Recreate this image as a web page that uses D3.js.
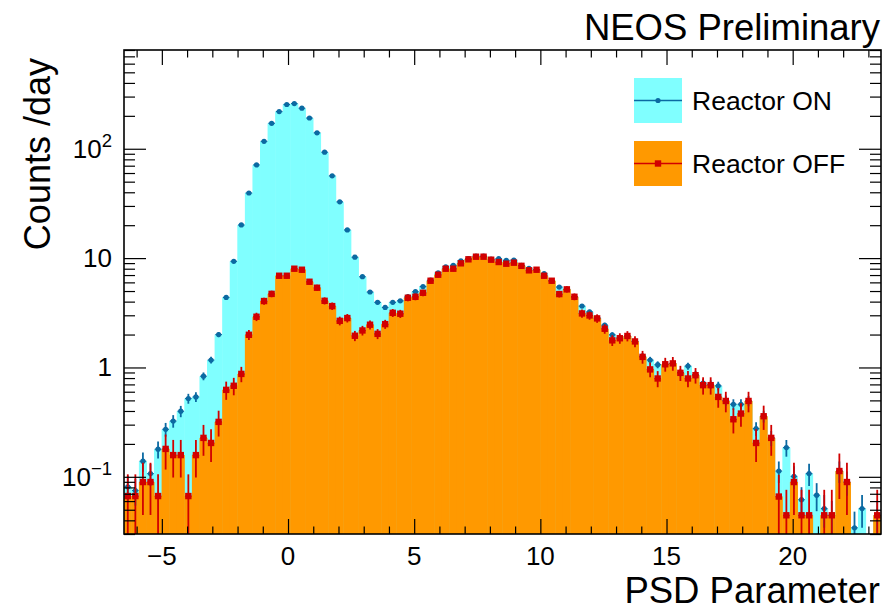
<!DOCTYPE html>
<html>
<head>
<meta charset="utf-8">
<script src="https://cdn.jsdelivr.net/npm/d3@7"></script>
<style>
  html, body { margin: 0; padding: 0; background: #fff; }
  svg { display: block; }
  text { font-family: "Liberation Sans", Arial, Helvetica, sans-serif; fill: #000; }
</style>
</head>
<body>
<svg id="chart" width="889" height="615"></svg>
<script>
// Histogram binning: 100 bins of width 0.3 starting at -6.5
const binLow = -6.5;
const binWidth = 0.3;

// Event rate per bin (counts/day), reactor ON
const onRate = [
  0.081, 0.075, 0.139, 0.107, 0.179, 0.272, 0.324, 0.398, 0.52, 0.538,
  0.832, 1.17, 2.0, 4.37, 9.35, 20.1, 39.4, 71.2, 117, 171,
  219, 254, 259, 235, 191, 140, 93, 56.5, 32.7, 18.1,
  10.2, 6.76, 4.90, 3.94, 3.54, 3.94, 4.07, 4.45, 4.93, 5.5,
  6.30, 7.35, 8.34, 8.59, 9.46, 9.88, 10.45, 10.45, 9.8, 9.88,
  9.55, 9.6, 8.59, 8.07, 7.83, 7.2, 6.21, 5.44, 5.18, 4.43,
  3.64, 3.23, 2.85, 2.44, 1.99, 1.87, 1.94, 1.73, 1.27, 1.17,
  1.06, 1.07, 1.09, 0.90, 1.03, 0.86, 0.72, 0.70, 0.679, 0.50,
  0.461, 0.461, 0.494, 0.276, 0.358, 0.227, 0.113, 0.185, 0.101, 0.0618,
  0.107, 0.068, 0.0512, 0.0445, 0.113, 0.0896, 0.0342, 0.0512, 0, 0.0445
];

// Event rate per bin (counts/day), reactor OFF
const offRate = [
  0.0667, 0.0667, 0.0896, 0.0896, 0.0667, 0.18, 0.158, 0.158, 0.0667, 0.158,
  0.227, 0.204, 0.318, 0.624, 0.68, 0.873, 1.99, 2.91, 4.05, 4.71,
  6.90, 6.90, 8.0, 7.83, 6.08, 5.36, 4.07, 3.64, 2.67, 2.83,
  1.95, 2.18, 2.46, 2.03, 2.49, 3.16, 3.10, 4.34, 4.43, 4.82,
  6.21, 7.05, 8.0, 8.0, 8.96, 9.75, 10.3, 10.3, 9.67, 9.21,
  8.89, 9.08, 8.5, 7.73, 7.83, 6.9, 6.21, 4.69, 5.18, 4.43,
  3.12, 2.99, 2.81, 2.26, 1.77, 1.85, 1.94, 1.73, 1.25, 0.96,
  0.793, 1.07, 1.09, 0.893, 0.793, 0.85, 0.689, 0.689, 0.538, 0.494,
  0.336, 0.379, 0.494, 0.204, 0.358, 0.227, 0.066, 0.0445, 0.0896, 0.0445,
  0.0445, 0, 0.0445, 0.0445, 0.113, 0.0896, 0, 0, 0, 0.0445
];

// Weight of one event in counts/day (1 / live days) for each data set;
// the error bars are the Poisson sqrt(N) uncertainty scaled by this weight
const onEventWeight = 0.0056;
const offEventWeight = 0.0224;

// Axis ticks
const xMajorTicks = [-5, 0, 5, 10, 15, 20];
const xMinorTicks = d3.range(-6, 24, 1).filter(v => !xMajorTicks.includes(v));
const yMajorTicks = [0.1, 1, 10, 100];
const yTickLabels = [["10", "\u22121"], ["1", null], ["10", null], ["10", "2"]];

const seriesLabels = ["Reactor ON", "Reactor OFF"];
const titleText = "NEOS Preliminary";
const xTitle = "PSD Parameter";
const yTitle = "Counts /day";

// ---- drawing ----
const colors = {
  onFill: "#80ffff", offFill: "#ff9900",
  onMark: "#0b6aa2", offMark: "#d10000"
};

const frame = { left: 124, right: 881, top: 50, bottom: 534 };
const svg = d3.select("#chart");

const x = d3.scaleLinear().domain([-6.5, 23.5]).range([frame.left, frame.right]);
const y = d3.scaleLog().domain([0.03, 800]).range([frame.bottom, frame.top]);

svg.append("defs").append("clipPath").attr("id", "plotClip")
  .append("rect")
  .attr("x", frame.left).attr("y", frame.top)
  .attr("width", frame.right - frame.left).attr("height", frame.bottom - frame.top);

const plot = svg.append("g").attr("clip-path", "url(#plotClip)");

function bins(rates, weight) {
  return rates.map((v, i) => {
    const lo = binLow + i * binWidth;
    const err = Math.sqrt(v * weight);
    return { i, v, lo, hi: lo + binWidth, c: lo + binWidth / 2, err };
  }).filter(d => d.v > 0);
}
const onBins = bins(onRate, onEventWeight);
const offBins = bins(offRate, offEventWeight);

// filled bars; a slight overlap keeps the seams between bins faint
function drawFill(data, fill) {
  plot.append("g").selectAll("rect").data(data).join("rect")
    .attr("x", d => x(d.lo) - 0.25)
    .attr("width", d => x(d.hi) - x(d.lo) + 0.5)
    .attr("y", d => y(d.v))
    .attr("height", d => frame.bottom - y(d.v))
    .attr("fill", fill);
}
drawFill(onBins, colors.onFill);
drawFill(offBins, colors.offFill);

function errLow(d) {
  const lo = d.v - d.err;
  return lo > 0.03 ? y(lo) : frame.bottom + 2;
}

function drawPoints(data, color, square) {
  const g = plot.append("g");
  g.selectAll("line.ey").data(data).join("line").attr("class", "ey")
    .attr("x1", d => x(d.c)).attr("x2", d => x(d.c))
    .attr("y1", d => y(d.v + d.err)).attr("y2", d => errLow(d))
    .attr("stroke", color).attr("stroke-width", 1.8);
  g.selectAll("line.ex").data(data).join("line").attr("class", "ex")
    .attr("x1", d => x(d.lo) + 0.5).attr("x2", d => x(d.hi) - 0.5)
    .attr("y1", d => y(d.v)).attr("y2", d => y(d.v))
    .attr("stroke", color).attr("stroke-width", 1.2);
  if (square) {
    g.selectAll("rect").data(data).join("rect")
      .attr("x", d => x(d.c) - 3.2).attr("y", d => y(d.v) - 3.2)
      .attr("width", 6.4).attr("height", 6.4).attr("fill", color);
  } else {
    g.selectAll("circle").data(data).join("circle")
      .attr("cx", d => x(d.c)).attr("cy", d => y(d.v)).attr("r", 2.6)
      .attr("fill", color);
  }
}
drawPoints(onBins, colors.onMark, false);
drawPoints(offBins, colors.offMark, true);

// ---- axes: ticks point inward on all four sides ----
function styleAxis(g) {
  g.select(".domain").remove();
  g.selectAll(".tick line").attr("stroke", "#000").attr("stroke-width", 1.2);
  g.selectAll(".tick text").remove();
}
svg.append("g").attr("transform", `translate(0,${frame.bottom})`)
  .call(d3.axisBottom(x).tickValues(xMajorTicks).tickSize(-15)).call(styleAxis);
svg.append("g").attr("transform", `translate(0,${frame.bottom})`)
  .call(d3.axisBottom(x).tickValues(xMinorTicks).tickSize(-7.5)).call(styleAxis);
svg.append("g").attr("transform", `translate(0,${frame.top})`)
  .call(d3.axisTop(x).tickValues(xMajorTicks).tickSize(-15)).call(styleAxis);
svg.append("g").attr("transform", `translate(0,${frame.top})`)
  .call(d3.axisTop(x).tickValues(xMinorTicks).tickSize(-7.5)).call(styleAxis);

const yMinorTicks = [];
[0.01, 0.1, 1, 10, 100].forEach(dec => {
  for (let k = 2; k <= 9; k++) {
    const v = +(dec * k).toPrecision(3);
    if (v >= 0.03 && v <= 800) yMinorTicks.push(v);
  }
});
svg.append("g").attr("transform", `translate(${frame.left},0)`)
  .call(d3.axisLeft(y).tickValues(yMajorTicks).tickSize(-22)).call(styleAxis);
svg.append("g").attr("transform", `translate(${frame.left},0)`)
  .call(d3.axisLeft(y).tickValues(yMinorTicks).tickSize(-11)).call(styleAxis);
svg.append("g").attr("transform", `translate(${frame.right},0)`)
  .call(d3.axisRight(y).tickValues(yMajorTicks).tickSize(-22)).call(styleAxis);
svg.append("g").attr("transform", `translate(${frame.right},0)`)
  .call(d3.axisRight(y).tickValues(yMinorTicks).tickSize(-11)).call(styleAxis);

svg.append("rect")
  .attr("x", frame.left).attr("y", frame.top)
  .attr("width", frame.right - frame.left).attr("height", frame.bottom - frame.top)
  .attr("fill", "none").attr("stroke", "#000").attr("stroke-width", 1.6);

// tick labels
svg.append("g").selectAll("text").data(xMajorTicks).join("text")
  .attr("x", d => x(d)).attr("y", 565)
  .attr("text-anchor", "middle").attr("font-size", 26)
  .text(d => d3.format("")(d));

const yLab = svg.append("g");
yMajorTicks.forEach((v, k) => {
  const [base, sup] = yTickLabels[k];
  const t = yLab.append("text")
    .attr("x", 112).attr("y", y(v) + 9)
    .attr("text-anchor", "end").attr("font-size", 26);
  t.append("tspan").text(base);
  if (sup) t.append("tspan").attr("font-size", 18.5).attr("dy", -11).text(sup);
});

// titles
svg.append("text").attr("x", 880).attr("y", 40)
  .attr("text-anchor", "end").attr("font-size", 36.5).text(titleText);
svg.append("text").attr("x", 880).attr("y", 603)
  .attr("text-anchor", "end").attr("font-size", 36.5).text(xTitle);
svg.append("text")
  .attr("transform", `translate(50,58) rotate(-90)`)
  .attr("text-anchor", "end").attr("font-size", 36).text(yTitle);

// legend
const legend = svg.append("g");
const legendRows = [
  { label: seriesLabels[0], fill: colors.onFill, mark: colors.onMark, square: false, top: 78 },
  { label: seriesLabels[1], fill: colors.offFill, mark: colors.offMark, square: true, top: 141 }
];
legendRows.forEach(r => {
  const g = legend.append("g");
  g.append("rect").attr("x", 634).attr("y", r.top).attr("width", 48).attr("height", 45)
    .attr("fill", r.fill);
  const cy = r.top + 22.5;
  g.append("line").attr("x1", 634).attr("x2", 682).attr("y1", cy).attr("y2", cy)
    .attr("stroke", r.mark).attr("stroke-width", 1.5);
  if (r.square) {
    g.append("rect").attr("x", 658 - 3.2).attr("y", cy - 3.2).attr("width", 6.4).attr("height", 6.4)
      .attr("fill", r.mark);
  } else {
    g.append("circle").attr("cx", 658).attr("cy", cy).attr("r", 2.6).attr("fill", r.mark);
  }
  g.append("text").attr("x", 692).attr("y", r.top + 32)
    .attr("font-size", 26.5).text(r.label);
});
</script>
</body>
</html>
